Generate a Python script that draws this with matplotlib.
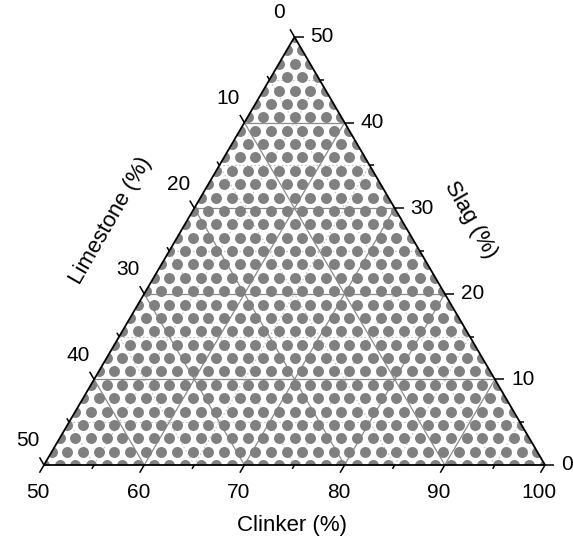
import numpy as np
import matplotlib
matplotlib.use("Agg")
import matplotlib.pyplot as plt
from matplotlib.patches import Polygon

plt.rcParams['font.family'] = ['Liberation Sans', 'DejaVu Sans']

# ---------------- data ----------------
# composition levels (%) of the sampled lattice (Slag and Limestone each)
levels = [0.0, 1.5625, 3.125, 4.6875, 6.25, 7.8125, 9.375, 10.9375, 12.5,
          14.0625, 15.625, 17.1875, 18.75, 20.3125, 21.875, 23.4375, 25.0,
          26.5625, 28.125, 29.6875, 31.25, 32.8125, 34.375, 35.9375, 37.5,
          39.0625, 40.625, 42.1875, 43.75, 45.3125, 46.875, 48.4375, 50.0]
clinker_ticks = [50, 60, 70, 80, 90, 100]
clinker_minor = [55, 65, 75, 85, 95]
slag_ticks = [0, 10, 20, 30, 40, 50]
slag_minor = [5, 15, 25, 35, 45]
limestone_ticks = [0, 10, 20, 30, 40, 50]
limestone_minor = [5, 15, 25, 35, 45]

SQ = np.sqrt(3) / 2


def to_xy(S, L):
    S = np.asarray(S, float)
    L = np.asarray(L, float)
    return 50 - L - S / 2, S * SQ


# lattice points
pS, pL = [], []
for s in levels:
    for l in levels:
        if s + l <= 50 + 1e-9:
            pS.append(s)
            pL.append(l)
px, py = to_xy(pS, pL)

# ---------------- figure ----------------
W, H = 573, 543
fig = plt.figure(figsize=(W / 100, H / 100), dpi=100)
ax = fig.add_axes([0, 0, 1, 1])
x0_px, x1_px, ytop_px, ybot_px = 44, 545, 37, 465
kx = (x1_px - x0_px) / 50.0
ky = (ybot_px - ytop_px) / (50 * SQ)
ax.set_xlim(-x0_px / kx, (W - x0_px) / kx)
ax.set_ylim(-(H - ybot_px) / ky, ybot_px / ky)
ax.axis('off')

tri_x, tri_y = to_xy([0, 0, 50], [50, 0, 0])
tri = Polygon(np.column_stack([tri_x, tri_y]), closed=True, fc='none',
              ec='none', transform=ax.transData)
ax.add_patch(tri)

# grid lines
def grid_line(kind, v, **kw):
    if kind == 'S':
        xs, ys = to_xy([v, v], [50 - v, 0])
    elif kind == 'L':
        xs, ys = to_xy([0, 50 - v], [v, v])
    else:  # clinker
        r = 100 - v
        xs, ys = to_xy([0, r], [r, 0])
    ax.plot(xs, ys, **kw)

for v in slag_minor:
    grid_line('S', v, color='#c4c4c4', lw=0.8, ls=(0, (1.5, 2)), zorder=1)
for v in limestone_minor:
    grid_line('L', v, color='#c4c4c4', lw=0.8, ls=(0, (1.5, 2)), zorder=1)
for v in clinker_minor:
    grid_line('C', v, color='#c4c4c4', lw=0.8, ls=(0, (1.5, 2)), zorder=1)
for v in slag_ticks[1:-1]:
    grid_line('S', v, color='#8a8a8a', lw=0.9, zorder=1)
for v in limestone_ticks[1:-1]:
    grid_line('L', v, color='#8a8a8a', lw=0.9, zorder=1)
for v in clinker_ticks[1:-1]:
    grid_line('C', v, color='#8a8a8a', lw=0.9, zorder=1)

# points
sc = ax.plot(px, py, 'o', ms=7.9, mfc='#808080', mec='none', zorder=2)[0]
sc.set_clip_path(tri)

# triangle edges
ax.plot(list(tri_x) + [tri_x[0]], list(tri_y) + [tri_y[0]], color='black',
        lw=1.3, zorder=4, solid_joinstyle='miter')

# ticks
tmaj, tmin = 0.9, 0.45
def tick(kind, v, t):
    if kind == 'C':
        r = 100 - v
        xs, ys = to_xy([0, -t], [r, r + t])
    elif kind == 'L':
        xs, ys = to_xy([50 - v, 50 - v + t], [v, v])
    else:
        xs, ys = to_xy([v, v], [0, -t])
    ax.plot(xs, ys, color='black', lw=1.1, zorder=4, solid_capstyle='butt')

for v in clinker_ticks:
    tick('C', v, tmaj)
for v in clinker_minor:
    tick('C', v, tmin)
for v in limestone_ticks:
    tick('L', v, tmaj)
for v in limestone_minor:
    tick('L', v, tmin)
for v in slag_ticks:
    tick('S', v, tmaj)
for v in slag_minor:
    tick('S', v, tmin)

fs = 15
pt = 0.72
for v in clinker_ticks:
    x, y = to_xy(0, 100 - v)
    ax.annotate(str(v), (x, y), xytext=(-6 * pt, -27 * pt), textcoords='offset points',
                ha='center', va='center', fontsize=fs)
for v in slag_ticks:
    x, y = to_xy(v, 0)
    ax.annotate(str(v), (x, y), xytext=(16 * pt, 0), textcoords='offset points',
                ha='left', va='center', fontsize=fs)
for v in limestone_ticks:
    x, y = to_xy(50 - v, v)
    ax.annotate(str(v), (x, y), xytext=(-16 * pt, 24 * pt), textcoords='offset points',
                ha='center', va='center', fontsize=fs)

# axis titles
tfs = 16
fig.text(292 / W, 1 - 526 / H, 'Clinker (%)', ha='center', va='center', fontsize=tfs)
fig.text(111 / W, 1 - 221 / H, 'Limestone (%)', ha='center', va='center',
         fontsize=tfs, rotation=60, rotation_mode='anchor')
fig.text(470 / W, 1 - 220 / H, 'Slag (%)', ha='center', va='center',
         fontsize=tfs, rotation=-60, rotation_mode='anchor')

fig.savefig('out.png', dpi=100)
